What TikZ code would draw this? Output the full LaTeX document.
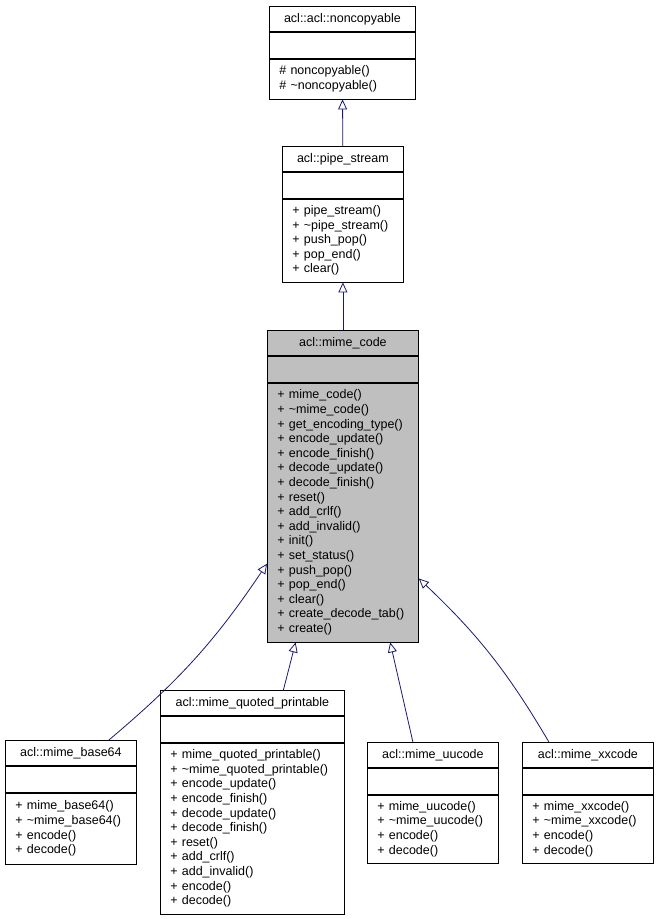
\documentclass[tikz,border=0pt]{standalone}
\usepackage{fontspec}
\setmainfont{Liberation Sans}
\usetikzlibrary{positioning, arrows.meta}
\definecolor{edgeblue}{RGB}{25,25,112}
\definecolor{hlgray}{RGB}{191,191,191}

\tikzset{
  cls/.style={draw=black, fill=white, line width=0.8pt, inner sep=0pt,
    font=\fontsize{12.5}{14.6}\selectfont},
  clsname/.style={cls, anchor=north west, minimum height=25},
  clsattr/.style={cls, below=0pt of #1, minimum height=26},
  clsops/.style={cls, align=left, inner xsep=10pt},
  inherit/.style={edgeblue, line width=0.8pt,
    -{Triangle[open, length=10pt, width=9pt]}}
}

\begin{document}
\begin{tikzpicture}[x=1pt, y=-1pt]

  \useasboundingbox (0,0) rectangle (659,919);

  % Base classes
  \node[clsname, minimum width=146] (nc) at (269,6) {acl::acl::noncopyable};
  \node[clsattr=nc, minimum width=146] (nc-a) {};
  \node[clsops, below=0pt of nc-a, text width=126, minimum height=40] (nc-m)
    {\# noncopyable()\\\# \textasciitilde noncopyable()};

  \node[clsname, minimum width=121] (ps) at (282,146) {acl::pipe\_stream};
  \node[clsattr=ps, minimum width=121] (ps-a) {};
  \node[clsops, below=0pt of ps-a, text width=101, minimum height=83] (ps-m)
    {+ pipe\_stream()\\+ \textasciitilde pipe\_stream()\\+ push\_pop()\\+ pop\_end()\\+ clear()};

  % This class
  \node[clsname, fill=hlgray, minimum width=151] (mc) at (267,330) {acl::mime\_code};
  \node[clsattr=mc, fill=hlgray, minimum width=151] (mc-a) {};
  \node[clsops, fill=hlgray, below=0pt of mc-a, text width=131, minimum height=259] (mc-m)
    {+ mime\_code()\\+ \textasciitilde mime\_code()\\+ get\_encoding\_type()\\+ encode\_update()\\+ encode\_finish()\\+ decode\_update()\\+ decode\_finish()\\+ reset()\\+ add\_crlf()\\+ add\_invalid()\\+ init()\\+ set\_status()\\+ push\_pop()\\+ pop\_end()\\+ clear()\\+ create\_decode\_tab()\\+ create()};

  % Derived classes
  \node[clsname, minimum width=131] (b64) at (5,740) {acl::mime\_base64};
  \node[clsattr=b64, minimum width=131] (b64-a) {};
  \node[clsops, below=0pt of b64-a, text width=111, minimum height=71] (b64-m)
    {+ mime\_base64()\\+ \textasciitilde mime\_base64()\\+ encode()\\+ decode()};

  \node[clsname, minimum width=184] (qp) at (160,690) {acl::mime\_quoted\_printable};
  \node[clsattr=qp, minimum width=184] (qp-a) {};
  \node[clsops, below=0pt of qp-a, text width=164, minimum height=171] (qp-m)
    {+ mime\_quoted\_printable()\\+ \textasciitilde mime\_quoted\_printable()\\+ encode\_update()\\+ encode\_finish()\\+ decode\_update()\\+ decode\_finish()\\+ reset()\\+ add\_crlf()\\+ add\_invalid()\\+ encode()\\+ decode()};

  \node[clsname, minimum width=131] (uu) at (367,742) {acl::mime\_uucode};
  \node[clsattr=uu, minimum width=131] (uu-a) {};
  \node[clsops, below=0pt of uu-a, text width=111, minimum height=68] (uu-m)
    {+ mime\_uucode()\\+ \textasciitilde mime\_uucode()\\+ encode()\\+ decode()};

  \node[clsname, minimum width=131] (xx) at (522,742) {acl::mime\_xxcode};
  \node[clsattr=xx, minimum width=131] (xx-a) {};
  \node[clsops, below=0pt of xx-a, text width=111, minimum height=68] (xx-m)
    {+ mime\_xxcode()\\+ \textasciitilde mime\_xxcode()\\+ encode()\\+ decode()};

  % Edge ends on the derived classes
  \coordinate (b64-top) at ([xshift=38pt]b64.north);
  \coordinate (qp-top) at ([xshift=31pt]qp.north);
  \coordinate (uu-top) at ([xshift=-20pt]uu.north);
  \coordinate (xx-top) at ([xshift=-39pt]xx.north);

  % Inheritance
  \draw[inherit] (ps) -- (nc-m);
  \draw[inherit] (mc) -- (ps-m);
  \draw[inherit] (b64-top) to[bend right=8] (mc-m.214);
  \draw[inherit] (qp-top) -- (mc-m.250);
  \draw[inherit] (uu-top) -- (mc-m.290);
  \draw[inherit] (xx-top) to[bend right=8] (mc-m.319);

\end{tikzpicture}
\end{document}
